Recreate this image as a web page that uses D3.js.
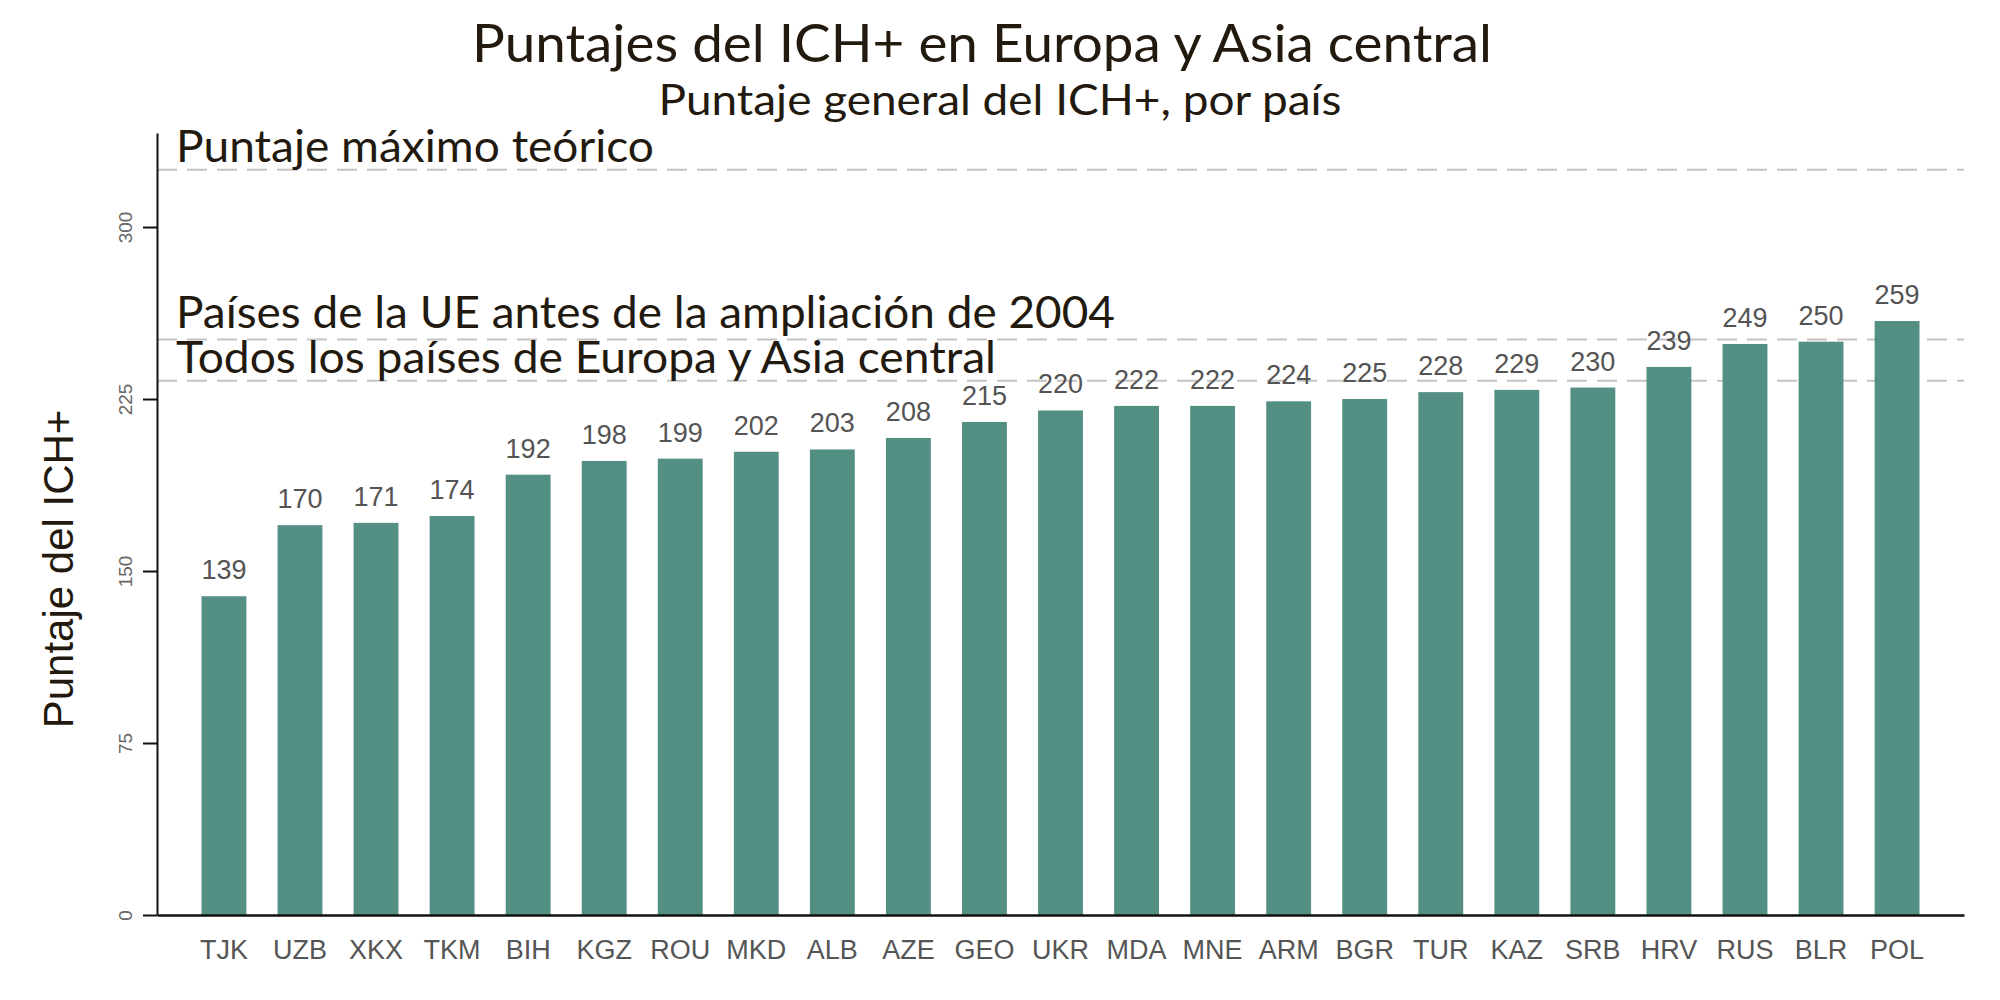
<!DOCTYPE html>
<html>
<head>
<meta charset="utf-8">
<script src="https://cdn.jsdelivr.net/npm/d3@7"></script>
<style>
  body { margin: 0; background: #fff; }
</style>
</head>
<body>
<div id="chart"></div>
<script>
// data
var countries = ["TJK","UZB","XKX","TKM","BIH","KGZ","ROU","MKD","ALB","AZE","GEO","UKR",
                 "MDA","MNE","ARM","BGR","TUR","KAZ","SRB","HRV","RUS","BLR","POL"];
var scores = [139,170,171,174,192,198,199,202,203,208,215,220,222,222,224,225,228,229,230,239,249,250,259];
var yTicks = [0,75,150,225,300];
var refLabels = ["Puntaje máximo teórico",
                 "Países de la UE antes de la ampliación de 2004",
                 "Todos los países de Europa y Asia central"];
var refValues = [325,251,233];

var titleText = "Puntajes del ICH+ en Europa y Asia central";
var subtitleText = "Puntaje general del ICH+, por país";
var yTitleText = "Puntaje del ICH+";

function drawChart(){
  'use strict';
  var width = 2000;
  var height = 1000;
  var margin = {top: 133, right: 36, bottom: 85, left: 157};
  var ink = "#231a0f";

  var svg = d3.select("#chart")
    .append("svg")
    .attr("width", width)
    .attr("height", height);

  var x = d3.scaleBand()
    .domain(countries)
    .range([margin.left, width - margin.right])
    .paddingInner(0.41)
    .paddingOuter(0.585);

  var y = d3.scaleLinear()
    .domain([0, 341])
    .range([height - margin.bottom, margin.top]);

  // reference lines (dashed)
  svg.selectAll(".ref")
    .data(refValues)
    .enter()
    .append("line")
    .attr("class", "ref")
    .attr("x1", margin.left)
    .attr("x2", width - margin.right)
    .attr("y1", function(d){ return y(d); })
    .attr("y2", function(d){ return y(d); })
    .attr("stroke", "#c4c4c4")
    .attr("stroke-width", 2)
    .attr("stroke-dasharray", "20,10");

  // bars
  svg.selectAll(".bar")
    .data(scores)
    .enter()
    .append("rect")
    .attr("class", "bar")
    .attr("x", function(d, i){ return x(countries[i]); })
    .attr("y", function(d){ return y(d); })
    .attr("width", x.bandwidth())
    .attr("height", function(d){ return y(0) - y(d); })
    .attr("fill", "#548f83");

  // value labels
  svg.selectAll(".val")
    .data(scores)
    .enter()
    .append("text")
    .attr("class", "val")
    .attr("x", function(d, i){ return x(countries[i]) + x.bandwidth() / 2; })
    .attr("y", function(d){ return y(d) - 17; })
    .attr("text-anchor", "middle")
    .attr("font-family", "Liberation Sans, Arial, sans-serif")
    .attr("font-size", "27px")
    .attr("fill", "#545454")
    .text(function(d){ return d; });

  // x axis
  var xAxis = svg.append("g")
    .attr("transform", "translate(0," + y(0) + ")")
    .call(d3.axisBottom(x).tickSize(0).tickPadding(44));
  xAxis.select(".domain").attr("stroke", "#111").attr("stroke-width", 2.5);
  xAxis.selectAll("text")
    .attr("font-family", "Liberation Sans, Arial, sans-serif")
    .attr("font-size", "27px")
    .attr("fill", "#555")
    .attr("dy", "0");

  // y axis
  var yAxis = svg.append("g")
    .attr("transform", "translate(" + margin.left + ",0)")
    .call(d3.axisLeft(y).tickValues(yTicks).tickSize(14).tickSizeOuter(0));
  yAxis.select(".domain").attr("stroke", "#111").attr("stroke-width", 2);
  yAxis.selectAll(".tick line").attr("stroke", "#111").attr("stroke-width", 2);
  yAxis.selectAll("text")
    .attr("font-family", "Liberation Sans, Arial, sans-serif")
    .attr("font-size", "19px")
    .attr("fill", "#666")
    .attr("x", 0)
    .attr("dy", 0)
    .attr("text-anchor", "middle")
    .attr("transform", "translate(-25,0) rotate(-90)");

  // reference labels, stretched to the widths seen in the picture
  var refWidths = [478, 939, 820];
  var refOffsets = [8, 11, 8];
  svg.selectAll(".refLabel")
    .data(refLabels)
    .enter()
    .append("text")
    .attr("class", "refLabel")
    .attr("x", 176)
    .attr("y", function(d, i){ return y(refValues[i]) - refOffsets[i]; })
    .attr("font-family", "Lato, sans-serif")
    .attr("font-size", "45px")
    .attr("fill", ink)
    .attr("textLength", function(d, i){ return refWidths[i]; })
    .attr("lengthAdjust", "spacingAndGlyphs")
    .text(function(d){ return d; });

  // titles
  svg.append("text")
    .attr("x", 982)
    .attr("y", 62)
    .attr("text-anchor", "middle")
    .attr("font-family", "Lato, sans-serif")
    .attr("font-size", "52px")
    .attr("fill", ink)
    .attr("textLength", 1020)
    .attr("lengthAdjust", "spacingAndGlyphs")
    .text(titleText);

  svg.append("text")
    .attr("x", 1000)
    .attr("y", 115)
    .attr("text-anchor", "middle")
    .attr("font-family", "Lato, sans-serif")
    .attr("font-size", "43px")
    .attr("fill", ink)
    .attr("textLength", 683)
    .attr("lengthAdjust", "spacingAndGlyphs")
    .text(subtitleText);

  svg.append("text")
    .attr("transform", "translate(73," + 569 + ") rotate(-90)")
    .attr("text-anchor", "middle")
    .attr("font-family", "Liberation Sans, Arial, sans-serif")
    .attr("font-size", "42px")
    .attr("fill", ink)
    .text(yTitleText);
}

drawChart();
</script>
</body>
</html>
